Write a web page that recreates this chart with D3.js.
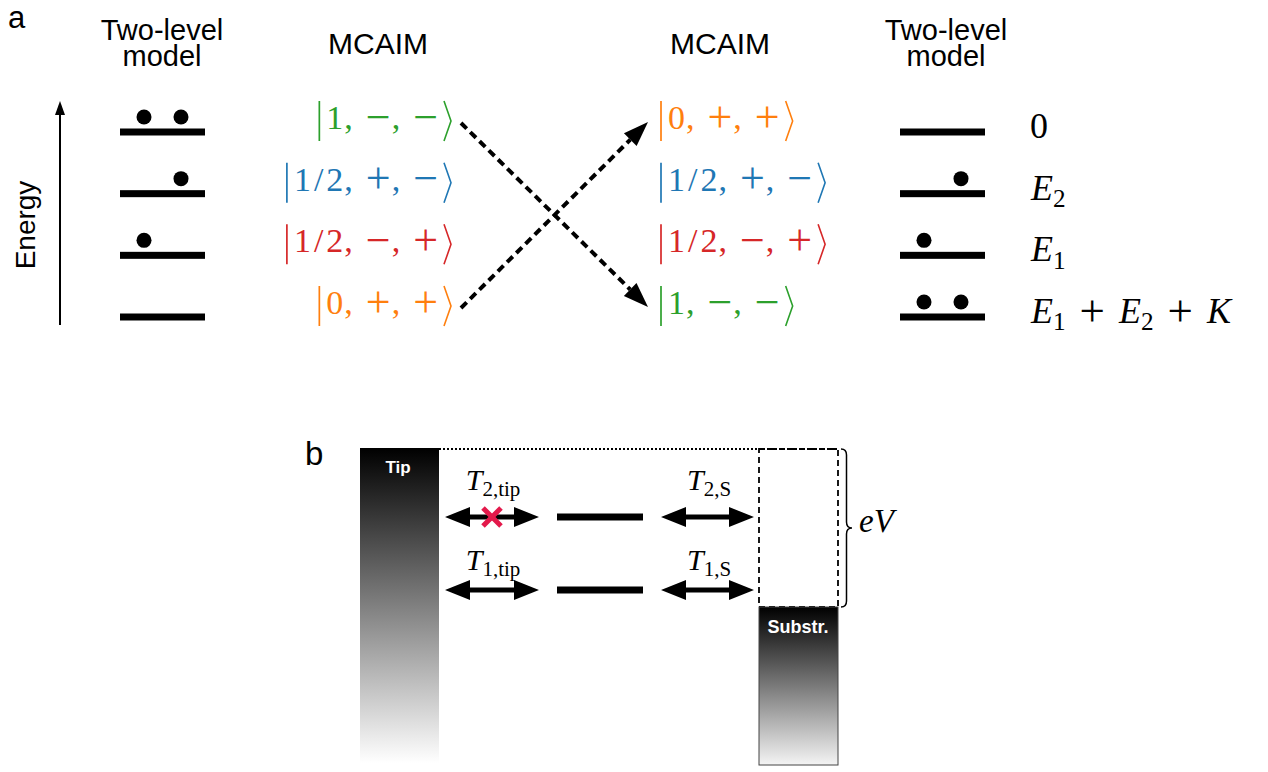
<!DOCTYPE html>
<html>
<head>
<meta charset="utf-8">
<script src="https://cdn.jsdelivr.net/npm/d3@7/dist/d3.min.js"></script>
<style>
  html, body { margin: 0; padding: 0; background: #fff; }
  svg { display: block; }
  .sans { font-family: "Liberation Sans", Arial, Helvetica, sans-serif; }
</style>
</head>
<body>
<svg id="fig" width="1268" height="772"></svg>
<script>
// =========================
// DATA
// =========================
// panel a: four many-body states, top (highest energy) to bottom
const levels = [0, 1, 2, 3];
const leftDots = [[0, 1], [1], [0], []];      // occupied slots (0 = orbital 1, 1 = orbital 2)
const rightDots = [[], [1], [0], [0, 1]];
const leftKets = ["1,−,−", "1/2,+,−", "1/2,−,+", "0,+,+"];
const leftKetColors = ["#2ca02c", "#1f77b4", "#d62728", "#ff7f0e"];
const rightKets = ["0,+,+", "1/2,+,−", "1/2,−,+", "1,−,−"];
const rightKetColors = ["#ff7f0e", "#1f77b4", "#d62728", "#2ca02c"];
const energyLabels = [
  [["0", ""]],
  [["E", "i"], ["2", "sub"]],
  [["E", "i"], ["1", "sub"]],
  [["E", "i"], ["1", "sub"], ["+", "op"], ["E", "i"], ["2", "sub"], ["+", "op"], ["K", "i"]]
];
const transitions = [[0, 3], [3, 0]];   // left ket index -> right ket index

// panel b: two dot levels, tunnelling to tip and substrate
const dotRows = ["2", "1"];
const tipLabels = ["2,tip", "1,tip"];
const subLabels = ["2,S", "1,S"];
const blocked = ["2"];                   // tip coupling switched off

const svg = d3.select("#fig");
const mathFont = "Liberation Serif";

// =========================
// HELPERS
// =========================
function mathText(g, x, y, parts, size, anchor) {
  const t = g.append("text")
    .attr("x", x).attr("y", y)
    .style("font-family", mathFont)
    .attr("font-size", size)
    .attr("text-anchor", anchor || "start");
  let shift = 0, pad = 0;
  parts.forEach(([s, style]) => {
    const sp = t.append("tspan").text(s);
    let target = 0;
    if (style === "i") { sp.attr("font-style", "italic"); sp.attr("dx", 1); }
    if (style === "sub") { sp.attr("font-size", size * 0.7); target = size * 0.2; }
    if (style === "op") { sp.attr("font-size", size * 1.25); target = size * 0.07; }
    if (target !== shift) { sp.attr("dy", target - shift); shift = target; }
    if (style === "op") { sp.attr("dx", 14); pad = 14; }
    else if (pad) { sp.attr("dx", pad); pad = 0; }
  });
  return t;
}

function drawKet(g, str, color, x, yc, anchor) {
  const k = g.append("g");
  const t = k.append("text")
    .attr("x", 0).attr("y", yc + 8)
    .attr("fill", color)
    .style("font-family", mathFont)
    .attr("font-size", 34);
  str.split(",").forEach((p, i) => {
    if (i === 0) {
      p.split("/").forEach((d, j) => {
        if (j > 0) t.append("tspan").attr("dx", 3).text("/");
        t.append("tspan").attr("dx", j > 0 ? 3 : 8).text(d);
      });
    } else {
      t.append("tspan").attr("dx", 1).attr("dy", i > 1 ? -2.6 : 0).text(",");
      t.append("tspan").attr("dx", 13).attr("dy", 2.6)
        .attr("font-size", 44).text(p);
    }
  });
  const bb = t.node().getBBox();
  const end = bb.x + bb.width + 6;
  k.append("path")
    .attr("d", `M1,${yc - 20}V${yc + 20}`)
    .attr("stroke", color).attr("stroke-width", 1.7).attr("fill", "none");
  k.append("path")
    .attr("d", `M${end},${yc - 20}L${end + 7},${yc}L${end},${yc + 20}`)
    .attr("stroke", color).attr("stroke-width", 1.6).attr("fill", "none");
  const total = end + 8;
  k.attr("transform", `translate(${anchor === "end" ? x - total : x},0)`);
}

function arrowHead(g, x1, y1, x2, y2, len, half) {
  const a = Math.atan2(y2 - y1, x2 - x1);
  const bx = x2 - len * Math.cos(a), by = y2 - len * Math.sin(a);
  const px = -Math.sin(a) * half, py = Math.cos(a) * half;
  g.append("path")
    .attr("d", `M${x2},${y2}L${bx + px},${by + py}L${bx - px},${by - py}Z`)
    .attr("fill", "#000");
  return [bx, by];
}

function doubleArrow(g, x1, x2, y) {
  const hl = 25, hw = 10, sw = 2.6;
  g.append("path")
    .attr("d", `M${x1},${y}L${x1 + hl},${y - hw}V${y - sw}H${x2 - hl}V${y - hw}L${x2},${y}` +
               `L${x2 - hl},${y + hw}V${y + sw}H${x1 + hl}V${y + hw}Z`)
    .attr("fill", "#000");
}

// =========================
// PANEL A
// =========================
const a = svg.append("g");
const yA = d3.scalePoint().domain(levels).range([132, 317]);
const slotX = d3.scalePoint().domain([0, 1]).range([24, 61]);

a.append("text").attr("class", "sans").attr("x", 8).attr("y", 28)
  .attr("font-size", 31).text("a");

// headers
[[162, true], [378, false], [720, false], [946, true]].forEach(([cx, two]) => {
  const t = a.append("text").attr("class", "sans")
    .attr("text-anchor", "middle").attr("font-size", 29);
  if (two) {
    t.append("tspan").attr("x", cx).attr("y", 40).text("Two-level");
    t.append("tspan").attr("x", cx).attr("y", 66).text("model");
  } else {
    t.attr("x", cx).attr("y", 54).attr("font-size", 30).text("MCAIM");
  }
});

// energy axis
a.append("line").attr("x1", 60).attr("x2", 60).attr("y1", 325).attr("y2", 112)
  .attr("stroke", "#000").attr("stroke-width", 2);
arrowHead(a, 60, 325, 60, 101, 14, 5);
a.append("text").attr("class", "sans").attr("font-size", 28)
  .attr("text-anchor", "middle")
  .attr("transform", "translate(35,225) rotate(-90)").text("Energy");

// level bars with occupation dots
function levelColumn(x0, dots) {
  levels.forEach(i => {
    a.append("rect").attr("x", x0).attr("y", yA(i) - 3.5)
      .attr("width", 85).attr("height", 7).attr("fill", "#000");
    dots[i].forEach(s => {
      a.append("circle").attr("cx", x0 + slotX(s)).attr("cy", yA(i) - 15)
        .attr("r", 7.5).attr("fill", "#000");
    });
  });
}
levelColumn(120, leftDots);
levelColumn(900, rightDots);

// kets
levels.forEach(i => {
  drawKet(a, leftKets[i], leftKetColors[i], 452, yA(i) - 11, "end");
  drawKet(a, rightKets[i], rightKetColors[i], 660, yA(i) - 11, "start");
});

// dashed transitions
transitions.forEach(([s, d]) => {
  const x1 = 461, y1 = yA(s) - 9, x2 = 648, y2 = yA(d) - 10;
  const [bx, by] = arrowHead(a, x1, y1, x2, y2, 25, 9);
  a.append("line").attr("x1", x1).attr("y1", y1).attr("x2", bx).attr("y2", by)
    .attr("stroke", "#000").attr("stroke-width", 4)
    .attr("stroke-dasharray", "8,5");
});

// energies on the right
levels.forEach(i => {
  mathText(a, 1030, yA(i) + 6, energyLabels[i], 36);
});

// =========================
// PANEL B
// =========================
const b = svg.append("g");
const yB = d3.scalePoint().domain(dotRows).range([517, 590]);
const yLab = d3.scalePoint().domain(dotRows).range([490, 570]);

b.append("text").attr("class", "sans").attr("x", 305).attr("y", 465)
  .attr("font-size", 33).text("b");

const defs = svg.append("defs");
const gTip = defs.append("linearGradient").attr("id", "gTip")
  .attr("x1", 0).attr("y1", 0).attr("x2", 0).attr("y2", 1);
gTip.append("stop").attr("offset", 0).attr("stop-color", "#000");
gTip.append("stop").attr("offset", 1).attr("stop-color", "#fff");
const gSub = defs.append("linearGradient").attr("id", "gSub")
  .attr("x1", 0).attr("y1", 0).attr("x2", 0).attr("y2", 1);
gSub.append("stop").attr("offset", 0).attr("stop-color", "#000");
gSub.append("stop").attr("offset", 1).attr("stop-color", "#f4f4f4");

// tip
b.append("rect").attr("x", 360).attr("y", 448).attr("width", 79).attr("height", 315)
  .attr("fill", "url(#gTip)");
b.append("text").attr("class", "sans").attr("x", 398).attr("y", 473)
  .attr("text-anchor", "middle").attr("font-size", 17).attr("font-weight", "bold")
  .attr("fill", "#fff").text("Tip");

// Fermi level of tip (dotted) and bias window (dashed)
b.append("line").attr("x1", 439).attr("x2", 838).attr("y1", 449).attr("y2", 449)
  .attr("stroke", "#000").attr("stroke-width", 1.8).attr("stroke-dasharray", "2,2");
b.append("rect").attr("x", 759).attr("y", 449).attr("width", 79).attr("height", 158)
  .attr("fill", "none").attr("stroke", "#000").attr("stroke-width", 1.8)
  .attr("stroke-dasharray", "6,4");

// substrate
b.append("rect").attr("x", 759).attr("y", 607).attr("width", 79).attr("height", 158)
  .attr("fill", "url(#gSub)").attr("stroke", "#444").attr("stroke-width", 1);
b.append("text").attr("class", "sans").attr("x", 798).attr("y", 633)
  .attr("text-anchor", "middle").attr("font-size", 18).attr("font-weight", "bold")
  .attr("fill", "#fff").text("Substr.");

// brace + eV
const bx0 = 841, bw = 11, by1 = 449, by2 = 607, bym = 528, q = 6;
b.append("path")
  .attr("d", `M${bx0},${by1}Q${bx0 + bw / 2},${by1} ${bx0 + bw / 2},${by1 + q}` +
             `L${bx0 + bw / 2},${bym - q}Q${bx0 + bw / 2},${bym} ${bx0 + bw},${bym}` +
             `Q${bx0 + bw / 2},${bym} ${bx0 + bw / 2},${bym + q}` +
             `L${bx0 + bw / 2},${by2 - q}Q${bx0 + bw / 2},${by2} ${bx0},${by2}`)
  .attr("fill", "none").attr("stroke", "#000").attr("stroke-width", 1.5);
mathText(b, 858, 532, [["eV", "i"]], 33);

// dot levels and tunnelling arrows
dotRows.forEach((r, i) => {
  const y = yB(r);
  b.append("rect").attr("x", 557).attr("y", y - 3.5).attr("width", 86).attr("height", 7)
    .attr("fill", "#000");
  doubleArrow(b, 445, 539, y);
  doubleArrow(b, 661, 754, y);
  mathText(b, 492, yLab(r), [["T", "i"], [tipLabels[i], "sub"]], 30, "middle");
  mathText(b, 708, yLab(r), [["T", "i"], [subLabels[i], "sub"]], 30, "middle");
  if (blocked.includes(r)) {
    const cx = 492, h = 9;
    b.append("path")
      .attr("d", `M${cx - h},${y - h}L${cx + h},${y + h}M${cx + h},${y - h}L${cx - h},${y + h}`)
      .attr("stroke", "#e3194b").attr("stroke-width", 5);
  }
});
</script>
</body>
</html>
